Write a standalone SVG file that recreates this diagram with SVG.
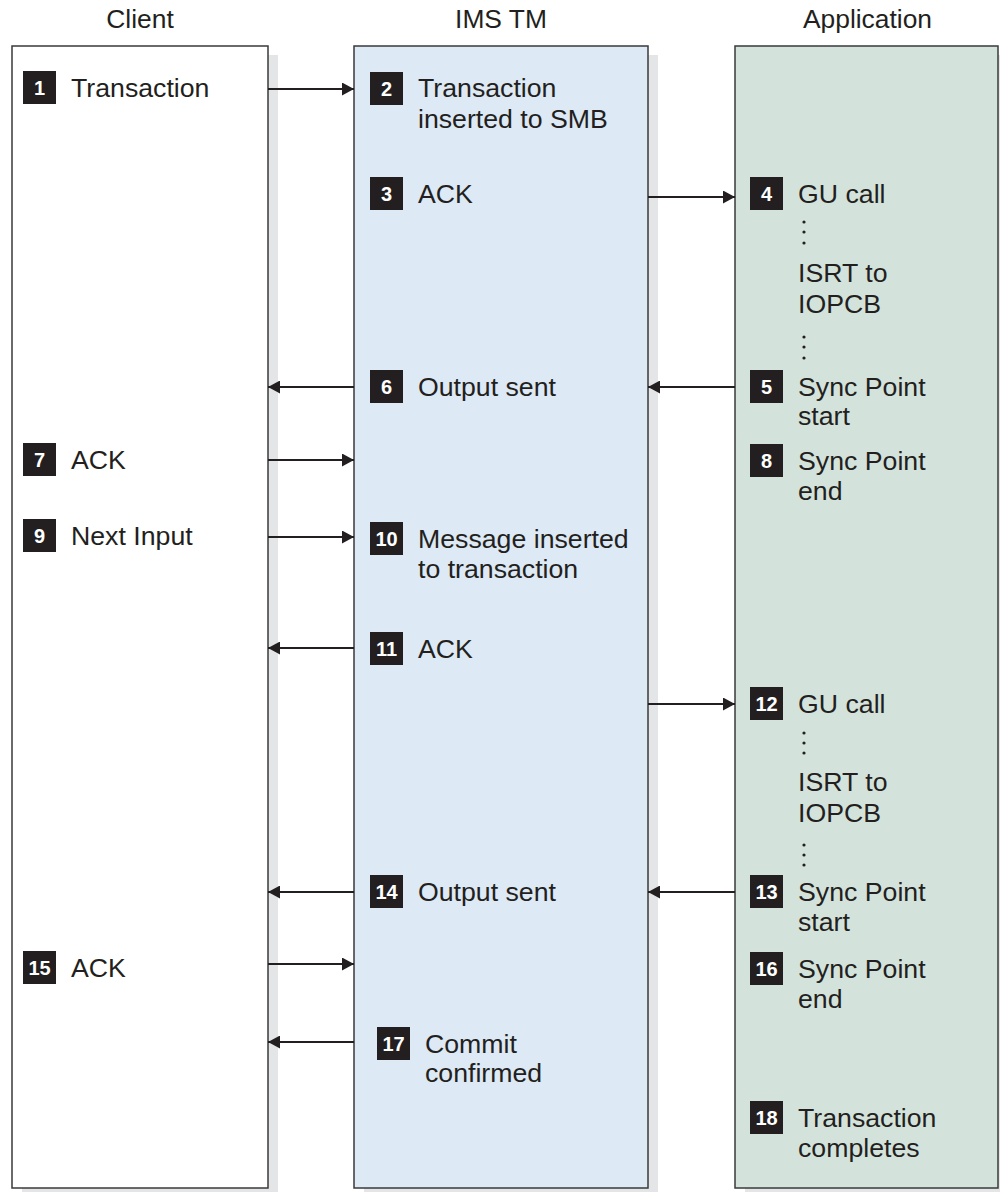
<svg xmlns="http://www.w3.org/2000/svg" width="1000" height="1192" viewBox="0 0 1000 1192">
<defs>
<style>
.t{font-family:"Liberation Sans",Arial,Helvetica,sans-serif;font-size:26.7px;fill:#231f20}
.h{font-family:"Liberation Sans",Arial,Helvetica,sans-serif;font-size:26.4px;fill:#231f20;text-anchor:middle}
.b{fill:#231f20}
.n{font-family:"Liberation Sans",Arial,Helvetica,sans-serif;font-size:20px;font-weight:bold;fill:#ffffff;text-anchor:middle}
.sh{fill:#e4e5e7}
.box{stroke:#3a3a3a;stroke-width:1.5}
.c line{stroke:#231f20;stroke-width:2;marker-end:url(#ah)}
.d{fill:#231f20}
</style>
<marker id="ah" markerUnits="userSpaceOnUse" markerWidth="13" markerHeight="13" refX="12" refY="6.5" orient="auto">
<path d="M0,0 L12,6.5 L0,13 z" fill="#231f20"/>
</marker>
</defs>
<rect width="1000" height="1192" fill="#ffffff"/>

<g id="lane-client">
<text class="h" x="140" y="28">Client</text>
<rect class="sh" x="22" y="55" width="256" height="1142"/>
<rect class="box" x="12" y="46" width="256" height="1142" fill="#ffffff"/>
</g>
<g id="lane-ims">
<text class="h" x="501" y="28">IMS TM</text>
<rect class="sh" x="364" y="55" width="294" height="1142"/>
<rect class="box" x="354" y="46" width="294" height="1142" fill="#dde9f4"/>
</g>
<g id="lane-app">
<text class="h" x="867.5" y="28">Application</text>
<rect class="sh" x="745" y="55" width="263" height="1142"/>
<rect class="box" x="735" y="46" width="263" height="1142" fill="#d3e3dc"/>
</g>

<g id="step1"><rect class="b" x="23" y="71" width="33" height="33"/><text class="n" x="39.5" y="95">1</text><text class="t" x="71" y="97">Transaction</text></g>
<g id="step7"><rect class="b" x="23" y="443" width="33" height="33"/><text class="n" x="39.5" y="467">7</text><text class="t" x="71" y="469">ACK</text></g>
<g id="step9"><rect class="b" x="23" y="519" width="33" height="33"/><text class="n" x="39.5" y="543">9</text><text class="t" x="71" y="545">Next Input</text></g>
<g id="step15"><rect class="b" x="23" y="951" width="33" height="33"/><text class="n" x="39.5" y="975">15</text><text class="t" x="71" y="977">ACK</text></g>

<g id="step2"><rect class="b" x="370" y="72" width="33" height="33"/><text class="n" x="386.5" y="96">2</text><text class="t" x="418" y="97">Transaction</text><text class="t" x="418" y="128">inserted to SMB</text></g>
<g id="step3"><rect class="b" x="370" y="177" width="33" height="33"/><text class="n" x="386.5" y="201">3</text><text class="t" x="418" y="203">ACK</text></g>
<g id="step6"><rect class="b" x="370" y="370" width="33" height="33"/><text class="n" x="386.5" y="394">6</text><text class="t" x="418" y="396">Output sent</text></g>
<g id="step10"><rect class="b" x="370" y="522" width="33" height="33"/><text class="n" x="386.5" y="546">10</text><text class="t" x="418" y="548">Message inserted</text><text class="t" x="418" y="578">to transaction</text></g>
<g id="step11"><rect class="b" x="370" y="632" width="33" height="33"/><text class="n" x="386.5" y="656">11</text><text class="t" x="418" y="658">ACK</text></g>
<g id="step14"><rect class="b" x="370" y="875" width="33" height="33"/><text class="n" x="386.5" y="899">14</text><text class="t" x="418" y="901">Output sent</text></g>
<g id="step17"><rect class="b" x="377" y="1027" width="33" height="33"/><text class="n" x="393.5" y="1051">17</text><text class="t" x="425" y="1053">Commit</text><text class="t" x="425" y="1082">confirmed</text></g>

<g id="step4"><rect class="b" x="750" y="177" width="33" height="33"/><text class="n" x="766.5" y="201">4</text><text class="t" x="798" y="203">GU call</text>
<circle class="d" cx="804" cy="222" r="1.6"/><circle class="d" cx="804" cy="232" r="1.6"/><circle class="d" cx="804" cy="243" r="1.6"/>
<text class="t" x="798" y="282">ISRT to</text><text class="t" x="798" y="313">IOPCB</text>
<circle class="d" cx="804" cy="337" r="1.6"/><circle class="d" cx="804" cy="347" r="1.6"/><circle class="d" cx="804" cy="358" r="1.6"/></g>
<g id="step5"><rect class="b" x="750" y="370" width="33" height="33"/><text class="n" x="766.5" y="394">5</text><text class="t" x="798" y="396">Sync Point</text><text class="t" x="798" y="425">start</text></g>
<g id="step8"><rect class="b" x="750" y="444" width="33" height="33"/><text class="n" x="766.5" y="468">8</text><text class="t" x="798" y="470">Sync Point</text><text class="t" x="798" y="500">end</text></g>
<g id="step12"><rect class="b" x="750" y="687" width="33" height="33"/><text class="n" x="766.5" y="711">12</text><text class="t" x="798" y="713">GU call</text>
<circle class="d" cx="804" cy="733" r="1.6"/><circle class="d" cx="804" cy="743" r="1.6"/><circle class="d" cx="804" cy="753" r="1.6"/>
<text class="t" x="798" y="791">ISRT to</text><text class="t" x="798" y="822">IOPCB</text>
<circle class="d" cx="804" cy="845" r="1.6"/><circle class="d" cx="804" cy="855" r="1.6"/><circle class="d" cx="804" cy="865" r="1.6"/></g>
<g id="step13"><rect class="b" x="750" y="875" width="33" height="33"/><text class="n" x="766.5" y="899">13</text><text class="t" x="798" y="901">Sync Point</text><text class="t" x="798" y="931">start</text></g>
<g id="step16"><rect class="b" x="750" y="952" width="33" height="33"/><text class="n" x="766.5" y="976">16</text><text class="t" x="798" y="978">Sync Point</text><text class="t" x="798" y="1008">end</text></g>
<g id="step18"><rect class="b" x="750" y="1101" width="33" height="33"/><text class="n" x="766.5" y="1125">18</text><text class="t" x="798" y="1127">Transaction</text><text class="t" x="798" y="1157">completes</text></g>

<g id="connectors" class="c">
<line x1="268" y1="89" x2="354" y2="89"/>
<line x1="648" y1="197" x2="735" y2="197"/>
<line x1="735" y1="387" x2="648" y2="387"/>
<line x1="354" y1="387" x2="268" y2="387"/>
<line x1="268" y1="460" x2="354" y2="460"/>
<line x1="268" y1="537" x2="354" y2="537"/>
<line x1="354" y1="648" x2="268" y2="648"/>
<line x1="648" y1="704" x2="735" y2="704"/>
<line x1="735" y1="892" x2="648" y2="892"/>
<line x1="354" y1="892" x2="268" y2="892"/>
<line x1="268" y1="964" x2="354" y2="964"/>
<line x1="354" y1="1042" x2="268" y2="1042"/>
</g>
</svg>
